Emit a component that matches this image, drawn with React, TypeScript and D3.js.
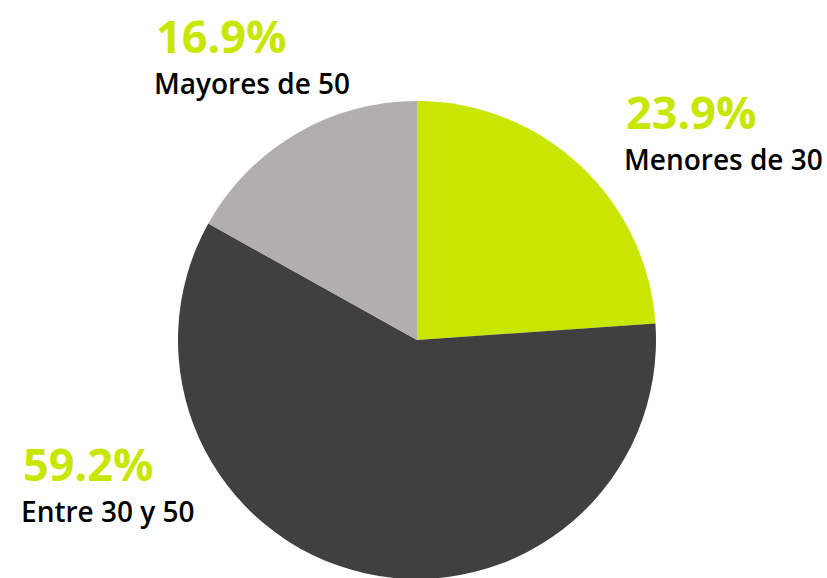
import React, { useEffect, useRef } from 'react';
import * as d3 from 'd3';

const categories = ['Menores de 30', 'Entre 30 y 50', 'Mayores de 50'];
const values = [23.9, 59.2, 16.9];
const colors = ['#c8e600', '#404040', '#b0afad'];

// label anchor points (left x, baseline of percent)
const labelPos = [
  { x: 626, y: 129 },
  { x: 23, y: 481 },
  { x: 156, y: 53 },
];

export default function App() {
  const ref = useRef<SVGSVGElement>(null);

  useEffect(() => {
    const w = 827, h = 578;
    const cx = 417, cy = 340, r = 239;
    const svg = d3.select(ref.current).attr('width', w).attr('height', h);
    svg.selectAll('*').remove();

    const data = categories.map((c, i) => ({ name: c, value: values[i], i }));
    const pie = d3.pie<any>().value(d => d.value).sort(null);
    const arc = d3.arc<any>().innerRadius(0).outerRadius(r);

    const g = svg.append('g').attr('transform', `translate(${cx}, ${cy})`);
    g.selectAll('path')
      .data(pie(data))
      .join('path')
      .attr('d', arc)
      .attr('fill', d => colors[d.data.i]);

    const labels = svg.selectAll('.lbl')
      .data(data)
      .join('g')
      .attr('class', 'lbl')
      .attr('transform', d => `translate(${labelPos[d.i].x}, ${labelPos[d.i].y})`);

    labels.append('text')
      .text(d => d3.format('.1f')(d.value) + '%')
      .attr('fill', '#c8e600')
      .style('font-family', '"Open Sans", sans-serif')
      .style('font-weight', 'bold')
      .style('font-size', '45px');

    labels.append('text')
      .text(d => d.name)
      .attr('x', -2)
      .attr('y', 41)
      .attr('fill', '#000')
      .style('font-family', '"Open Sans", sans-serif')
      .style('font-weight', '600')
      .style('font-size', '28px');
  }, []);

  return (
    <svg ref={ref} style={{ position: 'absolute', left: 0, top: 0 }}></svg>
  );
}
